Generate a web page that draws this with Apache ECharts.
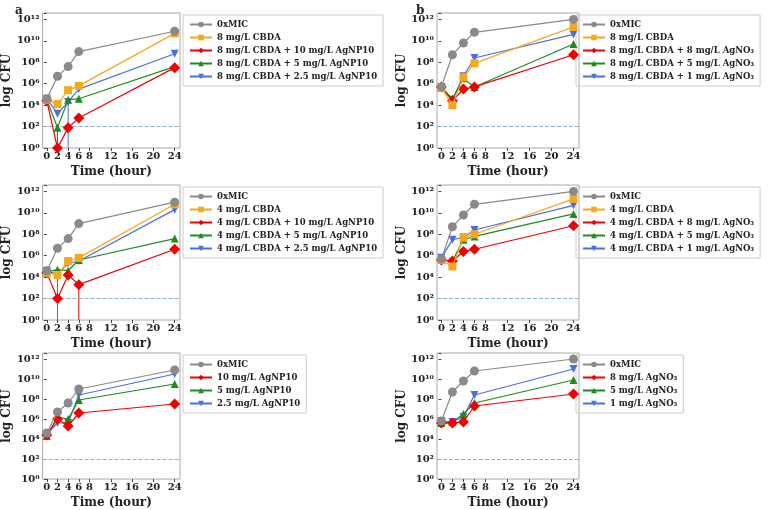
<!DOCTYPE html><html><head><meta charset="utf-8">
<script src="https://cdn.jsdelivr.net/npm/echarts@6/dist/echarts.min.js"></script>
<style>html,body{margin:0;background:#fff}#c{width:773px;height:510px}</style></head><body><div id="c"></div>
<script>
const times=[0,2,4,6,24];
const xTicks=[0,2,4,6,8,12,16,20,24];
const yTicks=[0,2,4,6,8,10,12];
// values are log10(CFU)
const aTop={'0xMIC':[4.6,6.7,7.6,9.0,10.9],'8 mg/L CBDA':[4.5,4.1,5.4,5.8,10.7],'8 mg/L CBDA + 10 mg/L AgNP10':[4.4,0,1.9,2.8,7.5],'8 mg/L CBDA + 5 mg/L AgNP10':[4.5,1.9,4.5,4.6,7.6],'8 mg/L CBDA + 2.5 mg/L AgNP10':[4.6,3.2,4.3,5.5,8.8]};
const aMid={'0xMIC':[4.6,6.7,7.6,9.0,11.0],'4 mg/L CBDA':[4.4,4.2,5.5,5.8,10.8],'4 mg/L CBDA + 10 mg/L AgNP10':[4.4,2.0,4.2,3.3,6.6],'4 mg/L CBDA + 5 mg/L AgNP10':[4.5,4.7,4.6,5.6,7.6],'4 mg/L CBDA + 2.5 mg/L AgNP10':[4.6,4.3,5.3,5.5,10.3]};
const aBot={'0xMIC':[4.6,6.7,7.6,9.0,10.9],'10 mg/L AgNP10':[4.4,6.0,5.3,6.6,7.5],'5 mg/L AgNP10':[4.3,6.2,6.0,7.9,9.5],'2.5 mg/L AgNP10':[4.5,5.6,5.6,8.4,10.5]};
const bTop={'0xMIC':[5.7,8.7,9.8,10.8,12.0],'8 mg/L CBDA':[5.6,4.0,6.6,7.9,11.3],'8 mg/L CBDA + 8 mg/L AgNO₃':[5.7,4.4,5.5,5.7,8.7],'8 mg/L CBDA + 5 mg/L AgNO₃':[5.6,4.6,6.5,5.7,9.7],'8 mg/L CBDA + 1 mg/L AgNO₃':[5.7,4.5,6.7,8.4,10.6]};
const bMid={'0xMIC':[5.7,8.7,9.8,10.8,12.0],'4 mg/L CBDA':[5.6,5.0,7.7,8.0,11.3],'4 mg/L CBDA + 8 mg/L AgNO₃':[5.6,5.5,6.4,6.6,8.8],'4 mg/L CBDA + 5 mg/L AgNO₃':[5.6,5.5,7.5,7.8,9.9],'4 mg/L CBDA + 1 mg/L AgNO₃':[5.8,7.5,7.7,8.4,10.7]};
const bBot={'0xMIC':[5.8,8.7,9.8,10.8,12.0],'8 mg/L AgNO₃':[5.6,5.6,5.7,7.3,8.5],'5 mg/L AgNO₃':[5.6,5.7,6.5,7.6,9.9],'1 mg/L AgNO₃':[5.8,5.7,6.2,8.4,11.0]};
// error bars that reach below the axis: [panelIndex, time, top, colour]
const drops=[[0,4,4.3,'blue'],[0,2,1.9,'green'],[1,2,4.3,'blue'],[1,6,3.3,'red']];
const grayC='#8a8a8a',orangeC='#f5a81c',redC='#f00000',greenC='#1e8c1e',blueC='#4a6fe0';
const full=[[grayC,'circle'],[orangeC,'rect'],[redC,'diamond'],[greenC,'triangle'],[blueC,'path://M0,0L10,0L5,9Z']];
const short=[[grayC,'circle'],[redC,'diamond'],[greenC,'triangle'],[blueC,'path://M0,0L10,0L5,9Z']];
const panels=[[aTop,full],[aMid,full],[aBot,short],[bTop,full],[bMid,full],[bBot,short]];
const gl=[38,437],gt=[13,185,353],gw=142,gh=135;
const font='DejaVu Serif';
const grid=[],xAxis=[],yAxis=[],series=[],legend=[];
function supN(n){return String(n).split('').map(d=>'⁰¹²³⁴⁵⁶⁷⁸⁹'[+d]).join('');}
panels.forEach(([obj,sty],i)=>{
  const col=i<3?0:1,row=i%3;
  grid.push({left:gl[col],top:gt[row],width:gw,height:gh,show:true,borderColor:'#aaa',borderWidth:1});
  xAxis.push({type:'value',gridIndex:i,min:-0.8,max:25,name:'Time (hour)',nameLocation:'middle',nameGap:18,
    nameTextStyle:{fontFamily:font,fontWeight:'bold',fontSize:12,color:'#222'},
    axisLine:{show:false},splitLine:{show:false},
    axisTick:{show:true,customValues:xTicks,length:3,lineStyle:{color:'#444'}},
    axisLabel:{customValues:xTicks,fontFamily:font,fontWeight:'bold',fontSize:10,color:'#222',margin:3}});
  yAxis.push({type:'value',gridIndex:i,min:0,max:12.6,interval:2,name:'log CFU',nameLocation:'middle',nameGap:22,
    nameTextStyle:{fontFamily:font,fontWeight:'bold',fontSize:12,color:'#222'},
    axisLine:{show:false},splitLine:{show:false},axisTick:{show:true,length:3,lineStyle:{color:'#444'}},
    axisLabel:{fontFamily:font,fontWeight:'bold',fontSize:10,color:'#222',margin:3,formatter:v=>v%2?'':'10'+supN(v)}});
  const names=Object.keys(obj);
  names.forEach((nm,k)=>{
    const [c,s]=sty[k];
    series.push({type:'line',name:nm,xAxisIndex:i,yAxisIndex:i,data:times.map((t,j)=>[t,obj[nm][j]]),
      symbol:s,symbolSize:s==='circle'?9:(s==='diamond'?11:8),color:c,lineStyle:{width:1.2,color:c},itemStyle:{color:c},
      clip:false,animation:false,z:10-k,
      markLine:k===0?{silent:true,symbol:'none',label:{show:false},lineStyle:{type:'dashed',color:'#8ab4c8',width:1},data:[{yAxis:2}]}:undefined});
  });
  drops.filter(d=>d[0]===i).forEach(d=>{
    const c={blue:blueC,red:redC,green:greenC}[d[3]];
    series.push({type:'line',xAxisIndex:i,yAxisIndex:i,data:[[d[1],d[2]],[d[1],0]],symbol:'none',lineStyle:{width:1,color:c},animation:false,silent:true});
  });
  legend.push({data:names,left:col?576:183,top:gt[row]+2,orient:'vertical',itemGap:4,itemWidth:22,itemHeight:7,
    borderColor:'#ccc',borderWidth:1,padding:[5,6],textStyle:{fontFamily:font,fontWeight:'bold',fontSize:8.5,color:'#222'}});
});
const chart=echarts.init(document.getElementById('c'),null,{renderer:'canvas'});
chart.setOption({animation:false,grid,xAxis,yAxis,series,legend,
  title:[{text:'a',left:10,top:0,textStyle:{fontFamily:font,fontSize:12,fontWeight:'bold',color:'#222'}},
         {text:'b',left:411,top:0,textStyle:{fontFamily:font,fontSize:12,fontWeight:'bold',color:'#222'}}]});
</script></body></html>
